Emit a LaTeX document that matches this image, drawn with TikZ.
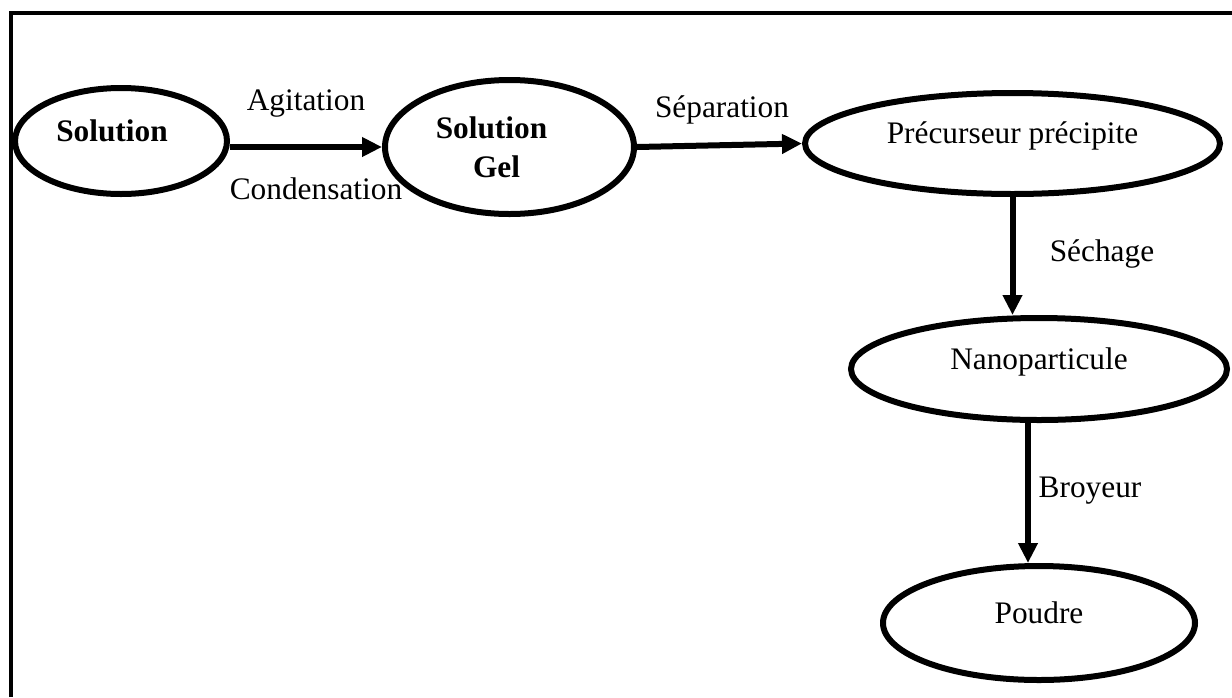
\documentclass[tikz,border=0pt]{standalone}
\usepackage{fontspec}
\setmainfont{Liberation Serif}
\usetikzlibrary{shapes.geometric,arrows.meta}
\begin{document}
\begin{tikzpicture}[x=0.75pt,y=-0.75pt,
  every node/.style={font=\fontsize{23.5pt}{29.25pt}\selectfont},
  stage/.style={ellipse,draw,line width=4.5pt,inner sep=0pt},
  oneline/.style={text height=0.6em,text depth=0.6em},
  flow/.style={line width=4.5pt,-{Triangle[length=15pt,width=14pt]}},
  steplabel/.style={anchor=base,inner sep=0pt}]
\useasboundingbox (0,0) rectangle (1232,697);
% open frame: left and top sides
\draw[line width=3pt] (11,697) -- (11,13) -- (1232,13);

% stages of the process (trailing struts pull the bold titles a little left)
\node[stage,oneline,minimum width=159pt,minimum height=79.5pt] (sol) at (121,141) {\bfseries Solution\rule{13.5pt}{0pt}};
\node[stage,align=center,minimum width=186.75pt,minimum height=100.5pt] (gel) at (509.5,147) {\bfseries Solution\rule{27pt}{0pt}\\\bfseries Gel\rule{19.5pt}{0pt}};
\node[stage,oneline,minimum width=311.25pt,minimum height=75.75pt] (prec) at (1012.5,143.5) {Précurseur précipite};
\node[stage,oneline,minimum width=282pt,minimum height=76.5pt] (nano) at (1039,369) {Nanoparticule};
\node[stage,oneline,minimum width=234pt,minimum height=85.5pt] (poudre) at (1039,623) {Poudre};

% transitions
\draw[flow] (sol.east |- gel.west) -- (gel.west);
\draw[flow] (gel.east) -- (prec.west);
\draw[flow] (prec.south) -- (prec.south |- nano.north);
\draw[flow] ([xshift=-8.25pt]nano.south) -- ([xshift=-8.25pt]poudre.north);

% transition labels
\node[steplabel] (agit) at (306,110) {Agitation};
\node[steplabel] (cond) at (316,199) {Condensation};
\node[steplabel] (sep) at (722,117) {Séparation};
\node[steplabel] (sech) at (1102,261) {Séchage};
\node[steplabel] (broy) at (1090,497) {Broyeur};
\end{tikzpicture}
\end{document}
